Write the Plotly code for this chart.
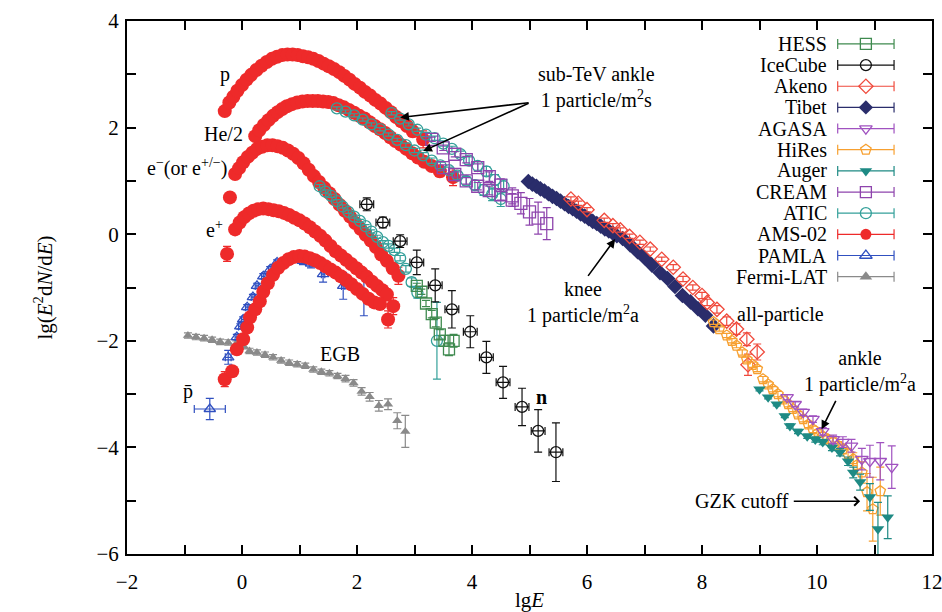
import plotly.graph_objects as go

# ---------------- data ----------------
# AMS-02 proton
ams_p_x = [-0.30, -0.22, -0.15, -0.08, 0.00, 0.08, 0.16, 0.25, 0.34, 0.43, 0.52, 0.61, 0.70, 0.79, 0.88, 0.97,
           1.06, 1.15, 1.24, 1.33, 1.42, 1.51, 1.60, 1.69, 1.78, 1.87, 1.96, 2.05, 2.14, 2.23, 2.32, 2.41,
           2.50, 2.59, 2.68, 2.77, 2.87, 2.97, 3.15]
ams_p_y = [2.31, 2.47, 2.58, 2.69, 2.80, 2.90, 2.99, 3.08, 3.16, 3.23, 3.29, 3.33, 3.36, 3.37, 3.37, 3.36,
           3.34, 3.32, 3.29, 3.25, 3.20, 3.15, 3.10, 3.04, 2.97, 2.90, 2.82, 2.75, 2.67, 2.60, 2.52, 2.45,
           2.37, 2.29, 2.20, 2.12, 2.03, 1.93, 1.78]
# AMS-02 helium / 2
ams_he_x = [0.23, 0.30, 0.38, 0.46, 0.54, 0.62, 0.70, 0.78, 0.87, 0.96, 1.05, 1.14, 1.23, 1.32, 1.41, 1.50,
            1.59, 1.68, 1.77, 1.86, 1.95, 2.04, 2.13, 2.22, 2.31, 2.40, 2.49, 2.58, 2.67, 2.76, 2.86, 2.96,
            3.06, 3.17, 3.30, 3.44, 3.67]
ams_he_y = [1.84, 1.95, 2.05, 2.14, 2.22, 2.29, 2.35, 2.40, 2.44, 2.47, 2.49, 2.50, 2.50, 2.50, 2.49, 2.48,
            2.46, 2.42, 2.38, 2.33, 2.28, 2.22, 2.17, 2.10, 2.03, 1.97, 1.90, 1.82, 1.75, 1.68, 1.60, 1.52,
            1.44, 1.36, 1.28, 1.18, 1.07]
# AMS-02 electrons
ams_em_x = [-0.21, -0.12, -0.05, 0.02, 0.10, 0.18, 0.26, 0.35, 0.44, 0.53, 0.62, 0.71, 0.80, 0.89, 0.98,
            1.07, 1.16, 1.25, 1.34, 1.43, 1.52, 1.61, 1.70, 1.79, 1.88, 1.97, 2.06, 2.15, 2.24, 2.33, 2.42,
            2.52, 2.62, 2.72]
ams_em_y = [0.69, 1.13, 1.24, 1.35, 1.45, 1.53, 1.60, 1.64, 1.67, 1.67, 1.65, 1.62, 1.57, 1.51, 1.43,
            1.33, 1.21, 1.09, 0.98, 0.87, 0.77, 0.66, 0.55, 0.44, 0.33, 0.21, 0.10, -0.01, -0.12, -0.24, -0.38,
            -0.50, -0.64, -0.78]
# AMS-02 positrons
ams_ep_x = [-0.26, -0.12, -0.04, 0.04, 0.12, 0.20, 0.28, 0.37, 0.46, 0.55, 0.64, 0.73, 0.82, 0.91, 1.00,
            1.09, 1.18, 1.27, 1.36, 1.45, 1.54, 1.63, 1.72, 1.81, 1.90, 1.99, 2.08, 2.17, 2.26, 2.35, 2.44,
            2.52, 2.63]
ams_ep_y = [-0.37, 0.09, 0.22, 0.32, 0.39, 0.44, 0.47, 0.48, 0.47, 0.45, 0.43, 0.40, 0.36, 0.31, 0.26,
            0.20, 0.13, 0.05, -0.03, -0.12, -0.22, -0.32, -0.40, -0.48, -0.56, -0.64, -0.72, -0.80, -0.89,
            -0.97, -1.05, -1.13, -1.35]
# AMS-02 antiprotons
ams_pb_x = [-0.30, -0.17, -0.09, 0.02, 0.09, 0.14, 0.23, 0.31, 0.37, 0.45, 0.54, 0.63, 0.72, 0.81, 0.90,
            1.00, 1.09, 1.18, 1.27, 1.36, 1.45, 1.54, 1.63, 1.72, 1.81, 1.90, 2.00, 2.10, 2.20, 2.30, 2.40, 2.54]
ams_pb_y = [-2.72, -2.57, -2.16, -1.97, -1.75, -1.56, -1.41, -1.26, -1.08, -0.92, -0.76, -0.63, -0.54,
            -0.47, -0.43, -0.41, -0.42, -0.45, -0.49, -0.54, -0.60, -0.66, -0.72, -0.79, -0.86, -0.94, -1.03,
            -1.12, -1.21, -1.28, -1.31, -1.60]

# PAMELA
pam_x = [-0.56, -0.24, -0.09, -0.03, 0.02, 0.09, 0.19, 0.26, 0.37, 0.49, 0.61, 0.78, 0.92, 1.06, 1.20, 1.41, 1.76, 2.12]
pam_y = [-3.28, -2.31, -1.93, -1.73, -1.60, -1.37, -1.18, -0.97, -0.79, -0.66, -0.53, -0.47, -0.46, -0.50,
         -0.55, -0.75, -0.97, -1.15]
pam_ex = [0.27, 0.05, 0.03, 0.03, 0.03, 0.03, 0.03, 0.03, 0.03, 0.03, 0.03, 0.03, 0.03, 0.03, 0.03, 0.03, 0.03, 0.03]
pam_ey = [0.20, 0.13, 0.05, 0.05, 0.05, 0.05, 0.05, 0.05, 0.05, 0.05, 0.05, 0.05, 0.06, 0.07, 0.08, 0.15, 0.25, 0.38]

# Fermi-LAT (EGB)
fermi_x = [-0.94, -0.80, -0.66, -0.52, -0.38, -0.24, -0.10, 0.03, 0.13, 0.26, 0.40, 0.54, 0.68, 0.82, 0.96,
           1.10, 1.24, 1.38, 1.52, 1.66, 1.80, 1.94, 2.08, 2.22, 2.38, 2.54, 2.70, 2.84]
fermi_y = [-1.90, -1.93, -1.95, -1.98, -2.02, -2.03, -2.05, -2.10, -2.19, -2.22, -2.26, -2.31, -2.37, -2.41,
           -2.44, -2.47, -2.54, -2.58, -2.61, -2.66, -2.71, -2.79, -2.95, -3.05, -3.22, -3.19, -3.50, -3.70]
fermi_ey = [0.05, 0.05, 0.05, 0.05, 0.05, 0.05, 0.05, 0.05, 0.05, 0.05, 0.05, 0.05, 0.05, 0.05, 0.05, 0.05,
            0.05, 0.05, 0.05, 0.05, 0.06, 0.06, 0.07, 0.08, 0.10, 0.10, 0.15, 0.30]

# IceCube
ice_x = [2.17, 2.45, 2.75, 3.04, 3.36, 3.65, 3.97, 4.25, 4.54, 4.87, 5.15, 5.46]
ice_y = [0.56, 0.22, -0.13, -0.53, -0.96, -1.41, -1.83, -2.31, -2.78, -3.24, -3.69, -4.09]
ice_ey = [0.12, 0.10, 0.12, 0.23, 0.31, 0.35, 0.30, 0.30, 0.30, 0.35, 0.40, 0.55]
ice_ex = [0.12, 0.12, 0.12, 0.12, 0.12, 0.12, 0.12, 0.12, 0.12, 0.12, 0.12, 0.12]

# ATIC (p, He, e-)
atic_x = [2.60, 2.75, 2.90, 3.05, 3.20, 3.35, 3.50, 3.65, 3.80, 3.95, 4.10, 4.25, 4.40, 4.55,
          1.65, 1.80, 1.95, 2.10, 2.25, 2.40, 2.55, 2.70, 2.85, 3.00, 3.15, 3.30, 3.45, 3.60, 3.75, 3.90,
          4.05, 4.20, 4.35, 4.50,
          1.35, 1.45, 1.55, 1.65, 1.75, 1.85, 1.95, 2.05, 2.15, 2.25, 2.35, 2.45, 2.55, 2.65, 2.75, 2.85,
          2.95, 3.05, 3.39]
atic_y = [2.27, 2.17, 2.06, 1.96, 1.87, 1.80, 1.70, 1.60, 1.50, 1.38, 1.28, 1.18, 1.02, 0.90,
          2.36, 2.30, 2.23, 2.15, 2.06, 1.97, 1.87, 1.77, 1.67, 1.57, 1.48, 1.38, 1.29, 1.20, 1.10, 1.00,
          0.92, 0.83, 0.75, 0.66,
          0.90, 0.80, 0.72, 0.62, 0.52, 0.42, 0.33, 0.25, 0.15, 0.05, -0.05, -0.15, -0.22, -0.30, -0.45,
          -0.65, -0.90, -1.10, -2.00]
atic_ey = [0.03, 0.03, 0.03, 0.03, 0.04, 0.04, 0.05, 0.05, 0.06, 0.07, 0.08, 0.09, 0.10, 0.12,
           0.03, 0.03, 0.03, 0.03, 0.03, 0.03, 0.03, 0.03, 0.04, 0.04, 0.05, 0.05, 0.06, 0.06, 0.07, 0.08,
           0.09, 0.10, 0.12, 0.14,
           0.03, 0.03, 0.03, 0.03, 0.03, 0.03, 0.03, 0.03, 0.03, 0.03, 0.03, 0.03, 0.04, 0.04, 0.05, 0.06,
           0.08, 0.10, 0.72]

# HESS (e-)
hess_x = [3.04, 3.12, 3.20, 3.30, 3.37, 3.44, 3.52, 3.60, 3.68]
hess_y = [-0.97, -1.08, -1.30, -1.50, -1.66, -1.88, -2.00, -2.16, -2.00]
hess_ey = [0.05, 0.05, 0.06, 0.07, 0.08, 0.09, 0.10, 0.12, 0.12]

# CREAM (p, He)
cream_x = [3.30, 3.50, 3.70, 3.90, 4.10, 4.30, 4.50, 4.70,
           3.50, 3.70, 3.90, 4.10, 4.30, 4.50, 4.70, 4.85, 5.00, 5.15, 5.30]
cream_y = [1.78, 1.62, 1.50, 1.40, 1.25, 1.08, 0.92, 0.72,
           1.25, 1.12, 1.00, 0.90, 0.82, 0.74, 0.64, 0.58, 0.42, 0.30, 0.20]
cream_ey = [0.04, 0.05, 0.05, 0.06, 0.07, 0.09, 0.12, 0.15,
            0.05, 0.05, 0.06, 0.07, 0.08, 0.10, 0.12, 0.20, 0.25, 0.30, 0.30]

# Tibet
tibet_x = [4.98, 5.05, 5.12, 5.19, 5.26, 5.33, 5.40, 5.47, 5.54, 5.61, 5.68, 5.75, 5.82, 5.89, 5.96, 6.03,
           6.10, 6.17, 6.24, 6.31, 6.38, 6.45, 6.52,
           6.62, 6.75, 6.88, 7.00, 7.13, 7.27, 7.40, 7.53, 7.66, 7.80, 7.93, 8.06, 8.20]
tibet_y = [0.99, 0.94, 0.90, 0.85, 0.81, 0.76, 0.71, 0.67, 0.62, 0.57, 0.52, 0.48, 0.43, 0.38, 0.34, 0.29,
           0.24, 0.20, 0.15, 0.10, 0.06, 0.02, -0.03,
           -0.08, -0.20, -0.33, -0.44, -0.58, -0.72, -0.83, -0.98, -1.15, -1.27, -1.40, -1.52, -1.72]

# Akeno
akeno_x = [5.72, 5.85, 6.00, 6.30, 6.45, 6.58, 6.74, 6.92, 7.10, 7.30, 7.50, 7.67, 7.84, 8.00, 8.09, 8.26,
           8.43, 8.60, 8.78, 8.80, 8.96]
akeno_y = [0.66, 0.58, 0.46, 0.26, 0.16, 0.08, -0.04, -0.15, -0.28, -0.47, -0.62, -0.84, -1.00, -1.15,
           -1.28, -1.41, -1.63, -1.78, -1.97, -2.45, -2.21]
akeno_ey = [0.04, 0.04, 0.04, 0.04, 0.04, 0.04, 0.04, 0.04, 0.04, 0.04, 0.05, 0.05, 0.05, 0.06, 0.06,
            0.07, 0.08, 0.10, 0.12, 0.20, 0.15]

# HiRes
hires_x = [8.20, 8.30, 8.43, 8.52, 8.60, 8.70, 8.78, 8.88, 8.96, 9.06, 9.15, 9.23, 9.32, 9.41, 9.50, 9.58,
           9.67, 9.76, 9.85, 9.93, 10.02, 10.10, 10.19, 10.28, 10.37, 10.45, 10.54, 10.63, 10.70, 10.78,
           10.87, 10.97, 11.10]
hires_y = [-1.65, -1.78, -1.90, -2.00, -2.09, -2.22, -2.35, -2.45, -2.53, -2.72, -2.82, -2.91, -3.00, -3.10,
           -3.19, -3.28, -3.38, -3.47, -3.57, -3.66, -3.73, -3.79, -3.85, -3.90, -3.97, -4.03, -4.12, -4.22,
           -4.33, -4.47, -4.84, -5.16, -4.82]
hires_ey = [0.04, 0.04, 0.04, 0.04, 0.04, 0.05, 0.05, 0.05, 0.05, 0.05, 0.05, 0.05, 0.05, 0.05, 0.05, 0.05,
            0.05, 0.05, 0.06, 0.06, 0.06, 0.07, 0.07, 0.08, 0.08, 0.09, 0.10, 0.12, 0.15, 0.20, 0.35, 0.60, 0.45]

# Auger
auger_x = [9.00, 9.15, 9.30, 9.44, 9.53, 9.67, 9.83, 9.97, 10.10, 10.26, 10.40, 10.54, 10.63, 10.75, 10.92,
           11.06, 11.23]
auger_y = [-2.91, -3.06, -3.19, -3.41, -3.60, -3.70, -3.79, -3.85, -3.90, -4.00, -4.09, -4.26, -4.47, -4.65,
           -4.93, -5.53, -5.31]
auger_ey = [0.03, 0.03, 0.03, 0.03, 0.04, 0.04, 0.04, 0.05, 0.05, 0.06, 0.07, 0.08, 0.10, 0.15, 0.25, 0.50, 0.40]

# AGASA
agasa_x = [9.48, 9.62, 9.76, 9.93, 10.10, 10.28, 10.45, 10.60, 10.78, 10.92, 11.10, 11.30]
agasa_y = [-3.06, -3.19, -3.34, -3.47, -3.70, -3.85, -3.90, -3.97, -4.22, -4.26, -4.26, -4.37]
agasa_ey = [0.05, 0.05, 0.06, 0.06, 0.07, 0.08, 0.10, 0.12, 0.20, 0.30, 0.35, 0.40]

legend_names = ["HESS", "IceCube", "Akeno", "Tibet", "AGASA", "HiRes", "Auger", "CREAM", "ATIC",
                "AMS-02", "PAMLA", "Fermi-LAT"]

# tick positions / labels
x_tickvals = [-2, -1, 0, 1, 2, 3, 4, 5, 6, 7, 8, 9, 10, 11, 12]
x_ticktext = ["−2", "", "0", "", "2", "", "4", "", "6", "", "8", "", "10", "", "12"]
y_tickvals = [-6, -5, -4, -3, -2, -1, 0, 1, 2, 3, 4]
y_ticktext = ["−6", "", "−4", "", "−2", "", "0", "", "2", "", "4"]

# ---------------- styles ----------------
STY = {
    "HESS": dict(color="#3f8a4f", symbol="square-open", size=11),
    "IceCube": dict(color="#111111", symbol="circle-open", size=11),
    "Akeno": dict(color="#f04a3c", symbol="diamond-open", size=11),
    "Tibet": dict(color="#2a2d6b", symbol="diamond", size=12),
    "AGASA": dict(color="#a052c0", symbol="triangle-down-open", size=11),
    "HiRes": dict(color="#f7a030", symbol="pentagon-open", size=11),
    "Auger": dict(color="#1e8a84", symbol="triangle-down", size=11),
    "CREAM": dict(color="#8e44ad", symbol="square-open", size=12),
    "ATIC": dict(color="#34a09a", symbol="circle-open", size=11),
    "AMS-02": dict(color="#ee2a2a", symbol="circle", size=14),
    "PAMLA": dict(color="#3050c0", symbol="triangle-up-open", size=10),
    "Fermi-LAT": dict(color="#8a8a8a", symbol="triangle-up", size=9),
}
FONT = "Liberation Serif"

# legend block geometry (in data units of the main axes)
LEG_X = 10.85       # centre of the error-bar glyph
LEG_HALF = 0.49     # half width of the glyph
LEG_TOP = 3.57      # first row
LEG_STEP = 0.397    # row spacing

fig = go.Figure()


def add(name, x, y, ey=None, ex=None, ey_minus=None, size=None):
    s = STY[name]
    open_ = s["symbol"].endswith("open")
    marker = dict(symbol=s["symbol"], color=s["color"], size=size or s["size"],
                  line=dict(color=s["color"], width=1.3 if open_ else 0))
    kw = {}
    if ey is not None:
        d = dict(type="data", array=ey, color=s["color"], thickness=1.2, width=4)
        if ey_minus is not None:
            d.update(symmetric=False, arrayminus=ey_minus)
        kw["error_y"] = d
    if ex is not None:
        kw["error_x"] = dict(type="data", array=ex, color=s["color"], thickness=1.2, width=4)
    fig.add_trace(go.Scatter(x=x, y=y, mode="markers", name=name, marker=marker,
                             showlegend=False, **kw))


add("Fermi-LAT", fermi_x, fermi_y, ey=fermi_ey)
add("PAMLA", pam_x, pam_y, ey=pam_ey, ex=pam_ex)
for xs, ys in [(ams_p_x, ams_p_y), (ams_he_x, ams_he_y), (ams_em_x, ams_em_y), (ams_ep_x, ams_ep_y),
               (ams_pb_x, ams_pb_y)]:
    eys = [0.02] * len(xs)
    eys[-1] = 0.16
    eys[-2] = 0.10
    if xs is ams_ep_x or xs is ams_pb_x:
        eys[0] = 0.14
    add("AMS-02", xs, ys, ey=eys)
add("ATIC", atic_x, atic_y, ey=atic_ey, ey_minus=atic_ey)
add("HESS", hess_x, hess_y, ey=hess_ey)
add("CREAM", cream_x, cream_y, ey=cream_ey)
add("IceCube", ice_x, ice_y, ey=ice_ey, ex=ice_ex)
add("Tibet", tibet_x, tibet_y)
add("Akeno", akeno_x, akeno_y, ey=akeno_ey)
add("HiRes", hires_x, hires_y, ey=hires_ey)
add("Auger", auger_x, auger_y, ey=auger_ey)
add("AGASA", agasa_x, agasa_y, ey=agasa_ey)

# ---------------- legend (glyph = marker with error bar, text on the left) ----------------
for i, name in enumerate(legend_names):
    s = STY[name]
    open_ = s["symbol"].endswith("open")
    yy = LEG_TOP - LEG_STEP * i
    fig.add_trace(go.Scatter(
        x=[LEG_X], y=[yy], mode="markers", showlegend=False, hoverinfo="skip",
        marker=dict(symbol=s["symbol"], color=s["color"], size=11,
                    line=dict(color=s["color"], width=1.3 if open_ else 0)),
        error_x=dict(type="constant", value=LEG_HALF, color=s["color"], thickness=1.2, width=5)))
    fig.add_annotation(x=LEG_X - LEG_HALF, y=yy, text=name, showarrow=False,
                       xanchor="right", yanchor="middle", xshift=-9,
                       font=dict(family=FONT, size=20, color="black"))

# ---------------- text labels ----------------
labels = [
    (-0.30, 3.00, "p"),
    (-0.33, 1.88, "He/2"),
    (-0.96, 1.26, "e<sup>−</sup>(or e<sup>+/−</sup>)"),
    (-0.47, 0.09, "e<sup>+</sup>"),
    (1.70, -2.25, "EGB"),
    (-0.94, -2.95, "p\u0304"),
    (5.20, -3.06, "<b>n</b>"),
    (6.17, 2.76, "sub-TeV ankle<br>1 particle/m<sup>2</sup>s"),
    (5.93, -1.28, "knee<br>1 particle/m<sup>2</sup>a"),
    (9.36, -1.50, "all-particle"),
    (10.75, -2.57, "ankle<br>1 particle/m<sup>2</sup>a"),
    (8.70, -5.01, "GZK cutoff"),
]
for x, y, t in labels:
    fig.add_annotation(x=x, y=y, text=t, showarrow=False, xanchor="center", yanchor="middle",
                       font=dict(family=FONT, size=20, color="black"))

arrows = [  # (tip x, tip y, tail x, tail y, head)
    (2.75, 2.19, 5.01, 2.47, 2),
    (3.15, 1.56, 5.01, 2.47, 2),
    (6.49, -0.09, 6.00, -0.81, 2),
    (10.08, -3.66, 10.34, -3.10, 2),
    (10.75, -5.01, 9.57, -5.01, 4),
]
for x, y, ax, ay, h in arrows:
    fig.add_annotation(x=x, y=y, ax=ax, ay=ay, xref="x", yref="y", axref="x", ayref="y", text="",
                       showarrow=True, arrowhead=h, arrowsize=1.1, arrowwidth=1.6, arrowcolor="black")

tick_style = dict(ticks="inside", ticklen=9, tickwidth=1.6, tickcolor="black", showgrid=False,
                  zeroline=False, showline=True, linewidth=2, linecolor="black", mirror="ticks",
                  automargin=False, ticklabeloverflow="allow",
                  tickfont=dict(family=FONT, size=21, color="black"))

fig.update_layout(
    template="none",
    width=942, height=612,
    margin=dict(l=127, r=10, t=21, b=58),
    paper_bgcolor="white", plot_bgcolor="white",
    font=dict(family=FONT, size=20, color="black"),
    showlegend=False,
    xaxis=dict(range=[-2, 12], tickmode="array", tickvals=x_tickvals, ticktext=x_ticktext,
               ticklabelstandoff=8,
               title=dict(text="lg<i>E</i>", font=dict(family=FONT, size=21), standoff=0),
               **tick_style),
    yaxis=dict(range=[-6, 4], tickmode="array", tickvals=y_tickvals, ticktext=y_ticktext,
               ticklabelstandoff=2,
               title=dict(text="lg(<i>E</i><sup>2</sup>d<i>N</i>/d<i>E</i>)", font=dict(family=FONT, size=21),
                          standoff=38),
               **tick_style),
)

fig.write_html("out.html")
